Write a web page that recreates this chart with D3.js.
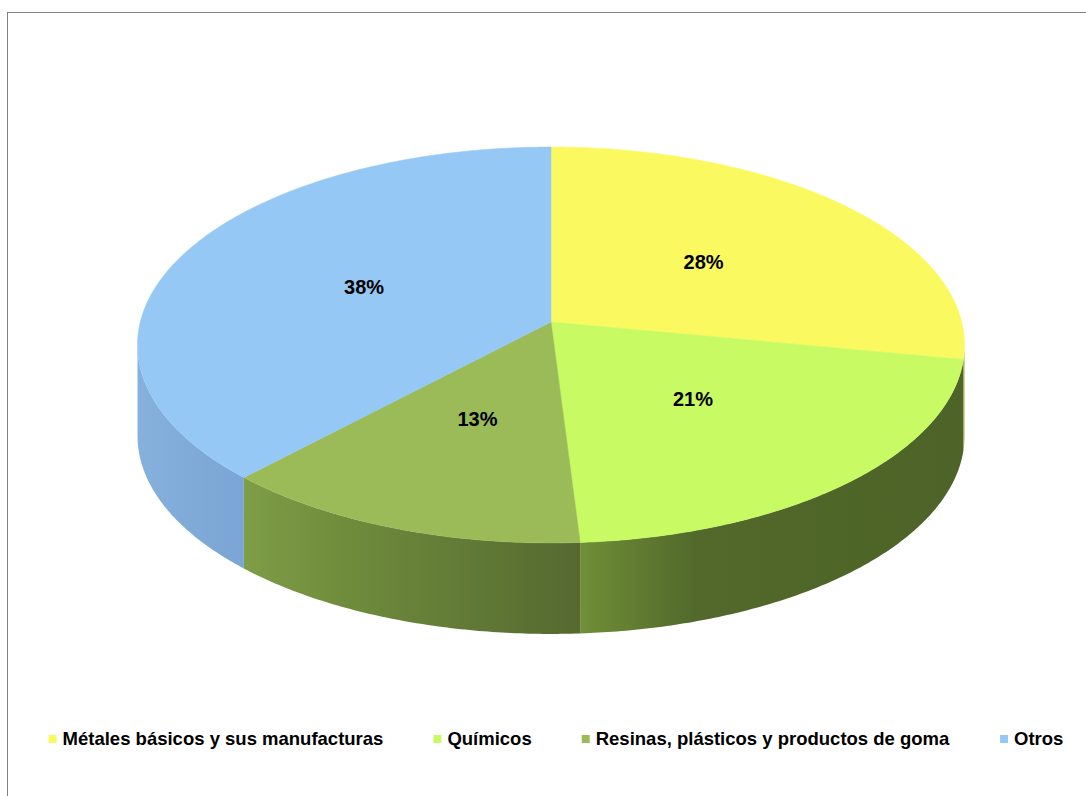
<!DOCTYPE html>
<html>
<head>
<meta charset="utf-8">
<script src="https://cdn.jsdelivr.net/npm/d3@7"></script>
<style>
  body { margin: 0; background: #fff; }
  svg { display: block; font-family: "Liberation Sans", Arial, sans-serif; }
</style>
</head>
<body>
<div id="chart"></div>
<script>
// data
var categories = ["Métales básicos y sus manufacturas", "Químicos", "Resinas, plásticos y productos de goma", "Otros"];
var shares = [28, 21, 13, 38];
var labels = ["28%", "21%", "13%", "38%"];

// styles
var topColors = ["#fbf960", "#c8fa64", "#9bbb59", "#96c8f6"];
var sideStops = [
	["#c9c74a", "#a9a83c"],
	["#6f8f37", "#52692b", "#4d6327"],
	["#7e9d47", "#6f8c3c", "#556930"],
	["#86b1dd", "#7aa5d4"]
];

var width = 1086, height = 796;
var cx = 551, cy = 322,
	ax = 410.7, ay = 195.3,
	persp = 0.116, depth = 91;

var svg = d3.select("#chart").append("svg")
	.attr("width", width)
	.attr("height", height);

// chart area border (runs off the right and bottom edges)
svg.append("rect")
	.attr("x", 7.5).attr("y", 12.5)
	.attr("width", 1200).attr("height", 900)
	.attr("fill", "none")
	.attr("stroke", "#808080")
	.attr("stroke-width", 1);

var defs = svg.append("defs");

var pie = d3.pie().sort(null).value(function(d){ return d; });
var arcs = pie(shares);

// perspective projection of a point on the disc (angle clockwise from top)
function proj(theta, r, dy){
	var u = r * Math.sin(theta), v = r * Math.cos(theta);
	var w = 1 + persp * v;
	return [cx + ax * u / w, cy - ay * v / w + (dy || 0)];
}

function arcPoints(a0, a1, dy){
	var n = Math.max(2, Math.ceil((a1 - a0) / 0.01));
	return d3.range(n + 1).map(function(i){ return proj(a0 + (a1 - a0) * i / n, 1, dy); });
}

var line = d3.line();

// visible rim goes between the two silhouette angles
var visFrom = Math.acos(-persp), visTo = 2 * Math.PI - Math.acos(-persp);

var sides = svg.append("g").attr("class", "sides");
arcs.forEach(function(d, i){
	var a0 = Math.max(d.startAngle, visFrom), a1 = Math.min(d.endAngle, visTo);
	if(a1 <= a0) return;
	var grad = defs.append("linearGradient")
		.attr("id", "side" + i)
		.attr("x1", "0%").attr("x2", "100%")
		.attr("y1", "0%").attr("y2", "0%");
	var stops = sideStops[i];
	stops.forEach(function(c, j){
		var off = stops.length == 3 ? [0, 0.3, 1][j] : j / (stops.length - 1);
		grad.append("stop").attr("offset", off).attr("stop-color", c);
	});
	var topEdge = arcPoints(a0, a1, 0);
	var bottomEdge = arcPoints(a0, a1, depth).reverse();
	sides.append("path")
		.attr("d", line(topEdge.concat(bottomEdge)) + "Z")
		.attr("fill", "url(#side" + i + ")");
});

var tops = svg.append("g").attr("class", "tops");
arcs.forEach(function(d, i){
	var pts = [proj(0, 0)].concat(arcPoints(d.startAngle, d.endAngle, 0));
	tops.append("path")
		.attr("d", line(pts) + "Z")
		.attr("fill", topColors[i])
		.attr("stroke", topColors[i])
		.attr("stroke-width", 0.5);
});

svg.append("g").selectAll("text")
	.data(arcs)
	.enter().append("text")
	.attr("x", function(d){ return proj((d.startAngle + d.endAngle) / 2, 0.5)[0]; })
	.attr("y", function(d){ return proj((d.startAngle + d.endAngle) / 2, 0.5)[1]; })
	.attr("dy", "0.35em")
	.attr("text-anchor", "middle")
	.style("font-size", "20px")
	.style("font-weight", "bold")
	.attr("fill", "#000")
	.text(function(d, i){ return labels[i]; });

// legend
var legend = svg.append("g").attr("class", "legend");
var legendY = 739, boxSize = 8, boxGap = 6, itemGap = 50;
var items = legend.selectAll("g")
	.data(categories)
	.enter().append("g");
items.append("rect")
	.attr("width", boxSize).attr("height", boxSize)
	.attr("y", -boxSize / 2)
	.attr("fill", function(d, i){ return topColors[i]; });
items.append("text")
	.attr("x", boxSize + boxGap)
	.attr("dy", "0.35em")
	.style("font-size", "18.5px")
	.style("font-weight", "bold")
	.attr("fill", "#000")
	.text(function(d){ return d; });

var xPos = 0, offsets = [];
items.each(function(){
	offsets.push(xPos);
	xPos += this.getBBox().width + itemGap;
});
var total = xPos - itemGap;
var startX = 556 - total / 2;
items.attr("transform", function(d, i){ return "translate(" + (startX + offsets[i]) + "," + legendY + ")"; });
</script>
</body>
</html>
